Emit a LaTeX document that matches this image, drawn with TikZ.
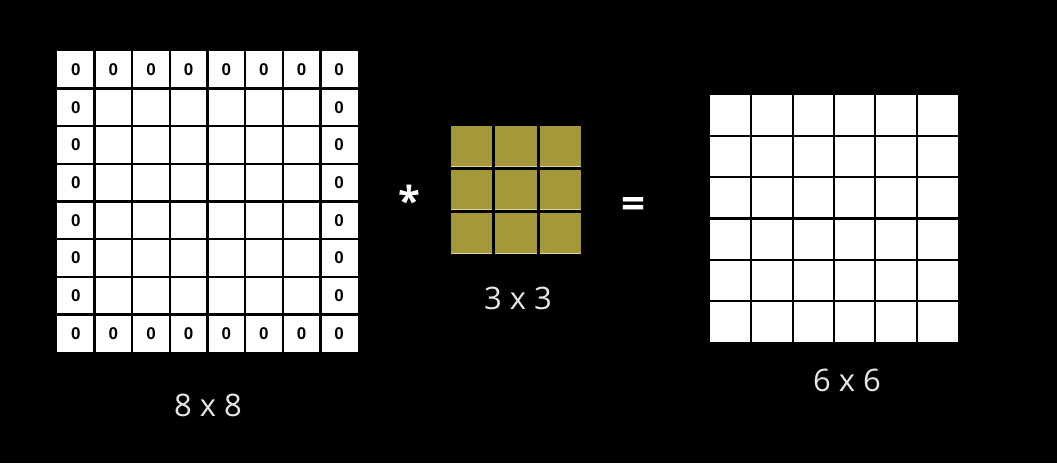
\documentclass[tikz,border=0pt]{standalone}
\usepackage{fontspec}
\setmainfont{Open Sans}
\newfontfamily\zerofont{Liberation Sans}

\definecolor{kernelolive}{RGB}{164,152,58}
\definecolor{kerneledge}{RGB}{222,214,150}
\definecolor{labelgray}{RGB}{230,230,230}

\tikzset{
  gridline/.style={black,line width=2.3pt},
  zerocell/.style={font=\zerofont\bfseries\fontsize{17}{17}\selectfont,text=black,inner sep=0pt},
  sizelabel/.style={font=\fontsize{31}{31}\selectfont,text=labelgray,inner sep=0pt},
  opsign/.style={font=\bfseries\fontsize{40}{40}\selectfont,text=white,inner sep=0pt,anchor=base}
}

\begin{document}
\begin{tikzpicture}[x=1pt,y=-1pt]
    \fill[black] (0,0) rectangle (1057,463);

    % padded input, 8 x 8
    \fill[white] (57,51) rectangle (358,352);
    \foreach \i in {1,...,7} {
        \draw[gridline] (57+\i*37.625,51) -- ++(0,301);
        \draw[gridline] (57,51+\i*37.625) -- ++(301,0);
    }
    \foreach \i in {0,...,7} {
        \node[zerocell] (top-\i) at (75.8+\i*37.625,69.8) {0};
        \node[zerocell] (bot-\i) at (75.8+\i*37.625,333.2) {0};
    }
    \foreach \j in {1,...,6} {
        \node[zerocell] (left-\j) at (75.8,69.8+\j*37.625) {0};
        \node[zerocell] (right-\j) at (339.2,69.8+\j*37.625) {0};
    }
    \node[sizelabel] (inlabel) at (208,405) {8 x 8};

    \node[opsign] (star) at (409,215) {*};

    % kernel, 3 x 3
    \foreach \i in {0,1,2} {
        \foreach \j in {0,1,2} {
            \fill[kernelolive] (451+\i*44.33,126+\j*43.67) rectangle ++(41.33,40.67);
            \draw[kerneledge,line width=0.9pt] (451+\i*44.33,126+\j*43.67+40.2) -- ++(41.33,0);
        }
    }
    \node[sizelabel] (klabel) at (518,298) {3 x 3};

    \node[opsign,font=\bfseries\fontsize{42}{42}\selectfont] (eq) at (633,218.5) {=};

    % output, 6 x 6
    \fill[white] (710,95) rectangle (958,342);
    \foreach \i in {1,...,5} {
        \draw[gridline] (710+\i*41.33,95) -- ++(0,247);
        \draw[gridline] (710,95+\i*41.17) -- ++(248,0);
    }
    \node[sizelabel] (outlabel) at (847,380) {6 x 6};
\end{tikzpicture}
\end{document}
